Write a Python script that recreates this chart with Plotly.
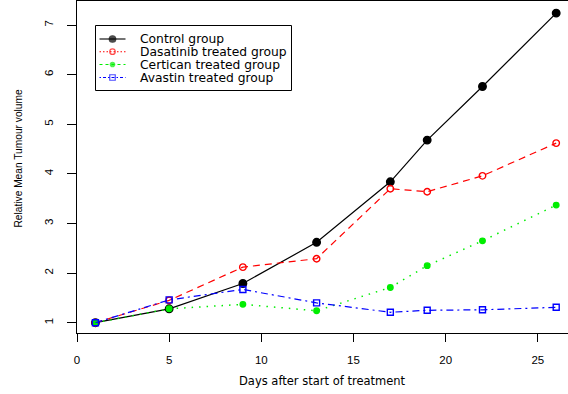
import plotly.graph_objects as go

# Days after start of treatment
days = [1, 5, 9, 13, 17, 19, 22, 26]

# Relative mean tumour volume per group
control = [1.00, 1.28, 1.79, 2.62, 3.84, 4.68, 5.76, 7.24]
dasatinib = [1.00, 1.45, 2.12, 2.29, 3.70, 3.64, 3.96, 4.62]
certican = [1.00, 1.28, 1.37, 1.24, 1.71, 2.15, 2.65, 3.37]
avastin = [1.00, 1.46, 1.67, 1.40, 1.21, 1.25, 1.26, 1.31]

group_names = ["Control group", "Dasatinib treated group",
               "Certican treated group", "Avastin treated group"]
x_ticks = [0, 5, 10, 15, 20, 25]
y_ticks = [1, 2, 3, 4, 5, 6, 7]

W, H = 568, 394
L, R, T, B = 77, 0, 1, 61
PW, PH = W - L - R, H - T - B

styles = [
    dict(color="#000000", dash="solid", symbol="circle", size=7.5, lw=1.2,
         leg_dash="solid", leg_size=6.5),
    dict(color="#FF0000", dash="7px,5px", symbol="circle-open", size=6.5, lw=1.2,
         leg_dash="1.5px,2px", leg_size=5.5),
    dict(color="#00EE00", dash="1.5px,6px", symbol="circle", size=5.5, lw=1.5,
         leg_dash="3px,3px", leg_size=4.5),
    dict(color="#0000FF", dash="7px,4px,2px,4px", symbol="square-open", size=6, lw=1.2,
         leg_dash="1.5px,2px,3px,2px", leg_size=5.5),
]


def px2paper_x(px):
    return (px - L) / PW


def px2paper_y(py):
    return (H - B - py) / PH


fig = go.Figure()
for name, vals, st in zip(group_names, [control, dasatinib, certican, avastin], styles):
    fig.add_trace(go.Scatter(
        x=days, y=vals, mode="lines+markers", name=name,
        line=dict(color=st["color"], width=st["lw"], dash=st["dash"]),
        marker=dict(symbol=st["symbol"], size=st["size"], color=st["color"],
                    line=dict(color=st["color"], width=1.4)),
        showlegend=False, cliponaxis=False,
    ))

# Legend drawn by hand on an overlay axis measured in page pixels
shapes = []
annotations = []
shapes.append(dict(type="rect", xref="x2", yref="y2", x0=95.5, x1=291.5, y0=25.5, y1=90.5,
                   line=dict(color="black", width=1), fillcolor="white", layer="below"))
row_y = [39, 51.7, 64.5, 77.5]
seg_x0, seg_x1, mark_x, text_x = 99.5, 125.5, 112.5, 137.5
for name, st, ry in zip(group_names, styles, row_y):
    shapes.append(dict(type="line", xref="x2", yref="y2", x0=seg_x0, x1=seg_x1, y0=ry, y1=ry,
                       line=dict(color=st["color"], width=1.1, dash=st["leg_dash"]),
                       layer="below"))
    annotations.append(dict(xref="x2", yref="y2", x=text_x, y=ry, text=name,
                            showarrow=False, xanchor="left", yanchor="middle",
                            font=dict(family="DejaVu Sans", size=12.3, color="black")))
fig.add_trace(go.Scatter(
    x=[mark_x] * 4, y=row_y, xaxis="x2", yaxis="y2", mode="markers",
    marker=dict(symbol=[s["symbol"] for s in styles], size=[s["leg_size"] for s in styles],
                color=[s["color"] for s in styles],
                line=dict(color=[s["color"] for s in styles], width=1.2)),
    showlegend=False, hoverinfo="skip", cliponaxis=False,
))

# Axis titles
annotations.append(dict(xref="paper", yref="paper", x=px2paper_x(322.5), y=px2paper_y(380.5),
                        text="Days after start of treatment", showarrow=False,
                        xanchor="center", yanchor="middle",
                        font=dict(family="DejaVu Sans", size=11.5, color="black")))
annotations.append(dict(xref="paper", yref="paper", x=px2paper_x(17.5), y=px2paper_y(159),
                        text="Relative Mean Tumour volume", showarrow=False, textangle=-90,
                        xanchor="center", yanchor="middle",
                        font=dict(family="Liberation Sans", size=10.2, color="black")))

fig.update_layout(
    width=W, height=H,
    margin=dict(l=L, r=R, t=T, b=B, pad=0),
    paper_bgcolor="white", plot_bgcolor="white",
    showlegend=False,
    xaxis=dict(range=[0, 26.64], tickmode="array", tickvals=x_ticks,
               ticktext=[str(v) for v in x_ticks],
               showgrid=False, zeroline=False, showline=True, mirror=True,
               linecolor="black", linewidth=1, ticks="outside", ticklen=8,
               tickcolor="black", tickwidth=1, ticklabelstandoff=8,
               tickfont=dict(family="Liberation Sans", size=11.5, color="black")),
    yaxis=dict(range=[0.7924, 7.4837], tickmode="array", tickvals=y_ticks,
               ticktext=[str(v) for v in y_ticks],
               showgrid=False, zeroline=False, showline=True, mirror=False,
               linecolor="black", linewidth=1, ticks="outside", ticklen=9,
               tickcolor="black", tickwidth=1, tickangle=-90, ticklabelstandoff=9,
               tickfont=dict(family="Liberation Sans", size=11.5, color="black")),
    xaxis2=dict(range=[L, W - R], overlaying="x", visible=False, fixedrange=True),
    yaxis2=dict(range=[H - B, T], overlaying="y", visible=False, fixedrange=True),
    shapes=shapes,
    annotations=annotations,
)

fig.write_html("out.html")
